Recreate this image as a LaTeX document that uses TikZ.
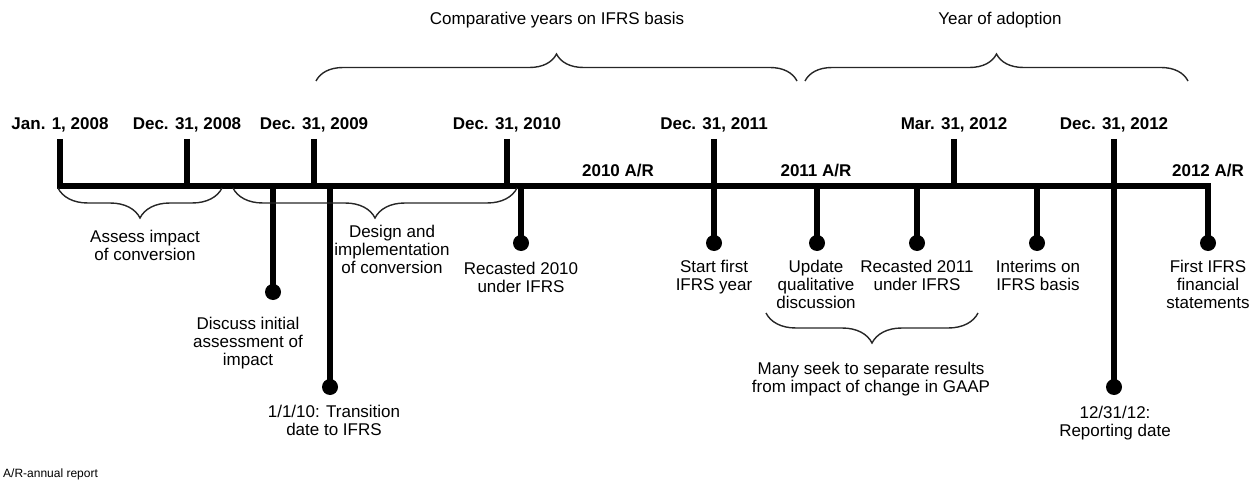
\documentclass[tikz,border=0pt]{standalone}
\usepackage{fontspec}
\setmainfont{Liberation Sans}
\usetikzlibrary{decorations.pathreplacing}
\begin{document}
\begin{tikzpicture}[x=1pt,y=-1pt,
  txt/.style={font=\fontsize{17}{18}\selectfont, align=center, inner sep=0pt, anchor=north},
  toptxt/.style={font=\fontsize{17}{18}\selectfont, inner sep=0pt, anchor=base},
  datelbl/.style={font=\fontsize{17}{18}\selectfont\bfseries, inner sep=0pt, anchor=base},
  stick/.style={line width=5.2pt},
  dotnode/.style={circle, fill=black, minimum size=16pt, inner sep=0pt},
  bracestyle/.style={line width=1.4pt, black!85, decorate, decoration={brace, amplitude=#1}},
]
\useasboundingbox (0,0) rectangle (1257,481);

% tick coordinates
\coordinate (tJ08) at (60,139);
\coordinate (tD08) at (187,139); \coordinate (mD08) at (187,186);
\coordinate (tD09) at (314,139); \coordinate (mD09) at (314,186);
\coordinate (tD10) at (507,139); \coordinate (mD10) at (507,186);
\coordinate (tD11) at (714,139);
\coordinate (tM12) at (954,139); \coordinate (mM12) at (954,186);
\coordinate (tD12) at (1114,139);
\coordinate (cEnd) at (1208,186);

% dots
\node[dotnode] (dDI) at (273,292) {};
\node[dotnode] (dTD) at (330,387) {};
\node[dotnode] (dR10) at (521,243) {};
\node[dotnode] (dSF) at (714,243) {};
\node[dotnode] (dUQ) at (817,243) {};
\node[dotnode] (dR11) at (917,243) {};
\node[dotnode] (dIN) at (1037,243) {};
\node[dotnode] (dRD) at (1114,387) {};
\node[dotnode] (dFI) at (1208,243) {};

% main-line points of down sticks
\coordinate (mDI) at (273,186);
\coordinate (mTD) at (330,186);
\coordinate (mR10) at (521,186);
\coordinate (mUQ) at (817,186);
\coordinate (mR11) at (917,186);
\coordinate (mIN) at (1037,186);

% main line
\draw[stick, line join=miter] (tJ08) |- (cEnd) -- (dFI.center);
% up ticks
\draw[stick] (tD08) -- (mD08);
\draw[stick] (tD09) -- (mD09);
\draw[stick] (tD10) -- (mD10);
\draw[stick] (tM12) -- (mM12);
\draw[stick] (tD11) -- (dSF.center);
\draw[stick] (tD12) -- (dRD.center);
% down sticks
\draw[stick] (mDI) -- (dDI.center);
\draw[stick] (mTD) -- (dTD.center);
\draw[stick] (mR10) -- (dR10.center);
\draw[stick] (mUQ) -- (dUQ.center);
\draw[stick] (mR11) -- (dR11.center);
\draw[stick] (mIN) -- (dIN.center);

% date labels
\node[datelbl] (lJ08) at (60,130) {Jan. 1, 2008};
\node[datelbl] (lD08) at (187,130) {Dec. 31, 2008};
\node[datelbl] (lD09) at (314,130) {Dec. 31, 2009};
\node[datelbl] (lD10) at (507,130) {Dec. 31, 2010};
\node[datelbl] (lD11) at (714,130) {Dec. 31, 2011};
\node[datelbl] (lM12) at (954,130) {Mar. 31, 2012};
\node[datelbl] (lD12) at (1114,130) {Dec. 31, 2012};
\node[datelbl] (lAR10) at (618,176) {2010 A/R};
\node[datelbl] (lAR11) at (816,176) {2011 A/R};
\node[datelbl] (lAR12) at (1208,176) {2012 A/R};

% top braces and texts
\node[toptxt] (tComp) at (557,25) {Comparative years on IFRS basis};
\node[toptxt] (tYear) at (1000,25) {Year of adoption};
\coordinate (bC1) at (316,81); \coordinate (bC2) at (797,81);
\coordinate (bY1) at (805,81); \coordinate (bY2) at (1188,81);
\draw[bracestyle=27pt] (bC1) -- (bC2);
\draw[bracestyle=27pt] (bY1) -- (bY2);

% lower braces
\coordinate (bA1) at (222,188); \coordinate (bA2) at (58,188);
\coordinate (bD1) at (517,188); \coordinate (bD2) at (233,188);
\coordinate (bM1) at (978,313); \coordinate (bM2) at (766,313);
\draw[bracestyle=30pt] (bA1) -- (bA2);
\draw[bracestyle=30pt] (bD1) -- (bD2);
\draw[bracestyle=30pt] (bM1) -- (bM2);

% descriptive texts
\node[txt] (xAI) at (145,229.7) {Assess impact\\of conversion};
\node[txt] (xDE) at (392,224.7) {Design and\\implementation\\of conversion};
\node[txt] (xDS) at (248,316.7) {Discuss initial\\assessment of\\impact};
\node[txt] (xTD) at (334,404.7) {1/1/10: Transition\\date to IFRS};
\node[txt] (xR10) at (521,261.7) {Recasted 2010\\under IFRS};
\node[txt] (xSF) at (714,259.7) {Start first\\IFRS year};
\node[txt] (xUQ) at (816,259.7) {Update\\qualitative\\discussion};
\node[txt] (xR11) at (917,259.7) {Recasted 2011\\under IFRS};
\node[txt] (xIN) at (1038,259.7) {Interims on\\IFRS basis};
\node[txt] (xFI) at (1208,259.7) {First IFRS\\financial\\statements};
\node[txt] (xRD) at (1115,405.7) {12/31/12:\\Reporting date};
\node[txt] (xMS) at (871,362) {Many seek to separate results\\from impact of change in GAAP};

% footnote
\node[font=\fontsize{12}{14}\selectfont, anchor=base west, inner sep=0pt] (fn) at (3,477) {A/R-annual report};
\end{tikzpicture}
\end{document}
